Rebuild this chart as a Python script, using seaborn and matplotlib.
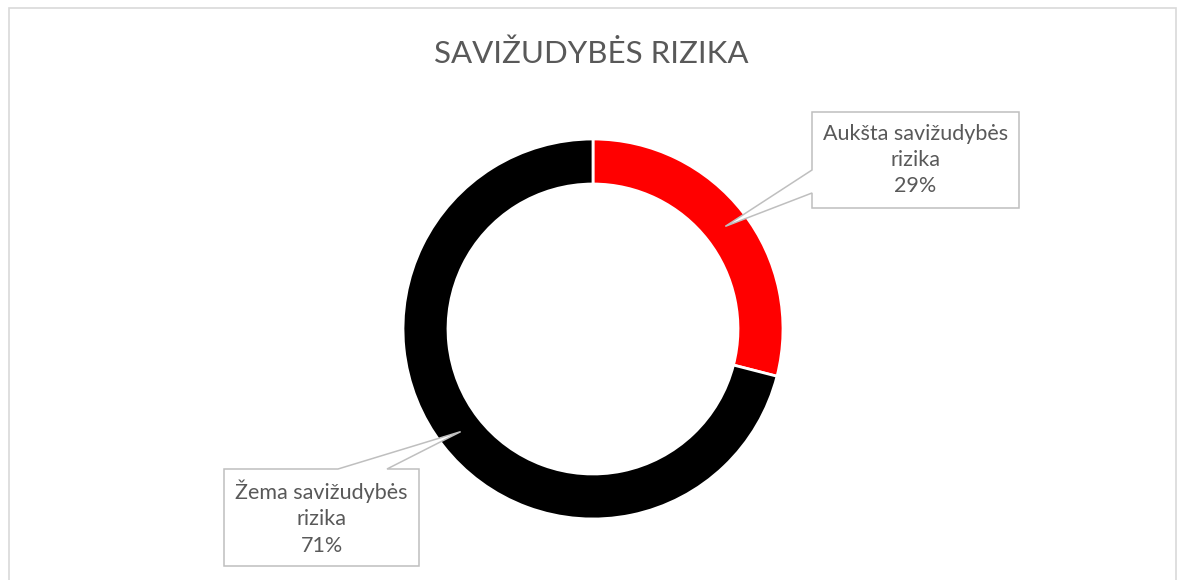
import numpy as np
import matplotlib
matplotlib.use("Agg")
import matplotlib.pyplot as plt
import seaborn as sns
from matplotlib.patches import Polygon, Rectangle

# Chart data
categories = ["Aukšta savižudybės\nrizika", "Žema savižudybės\nrizika"]
shares = [29, 71]
colors = ["#ff0000", "#000000"]
title = "SAVIŽUDYBĖS RIZIKA"

sns.set_theme(style="white")
plt.rcParams['font.family'] = ['Lato', 'DejaVu Sans']

W, H = 1177, 580
fig = plt.figure(figsize=(W / 100, H / 100), dpi=100)
ax = fig.add_axes([0, 0, 1, 1])
ax.set_xlim(0, W)
ax.set_ylim(0, H)
ax.set_aspect('equal')
ax.axis('off')

# chart area border
ax.add_patch(Rectangle((8.5, -5), 1167, H - 7.5 + 5, fill=False,
                       edgecolor="#d9d9d9", lw=1.2))

center = (593, H - 329)
r_out, width = 190, 45
wedges, _ = ax.pie(shares, colors=colors, startangle=90, counterclock=False,
                   radius=r_out, center=center, frame=True,
                   wedgeprops=dict(width=width, edgecolor="white", linewidth=2))
ax.set_xlim(0, W)
ax.set_ylim(0, H)
ax.axis('off')

ax.text(591, H - 54, title, ha='center', va='center', fontsize=22.5,
        color="#595959")

# callout boxes: (x0, x1, y0, y1) in pixels (y up), pointer base points
boxes = [
    dict(box=(812, 1019, H - 208, H - 112), base="left", b=(H - 193, H - 170)),
    dict(box=(224, 419, H - 566, H - 469), base="top", b=(338, 387)),
]
grey = "#bfbfbf"
for wedge, label, share, spec in zip(wedges, categories, shares, boxes):
    mid = np.deg2rad((wedge.theta1 + wedge.theta2) / 2)
    rr = r_out - width / 2
    tip = (center[0] + rr * np.cos(mid), center[1] + rr * np.sin(mid))
    x0, x1, y0, y1 = spec["box"]
    if spec["base"] == "left":
        ya, yb = spec["b"]
        pts = [(x0, y0), (x0, ya), tip, (x0, yb), (x0, y1), (x1, y1), (x1, y0)]
    else:
        xa, xb = spec["b"]
        pts = [(x0, y0), (x0, y1), (xa, y1), tip, (xb, y1), (x1, y1), (x1, y0)]
    ax.add_patch(Polygon(pts, closed=True, facecolor="white", edgecolor=grey,
                         lw=1.1, zorder=5))
    ax.text((x0 + x1) / 2, (y0 + y1) / 2, f"{label}\n{share}%", ha='center',
            va='center', fontsize=15.5, color="#595959", linespacing=1.4,
            zorder=6)

fig.savefig("out.png", dpi=100)
